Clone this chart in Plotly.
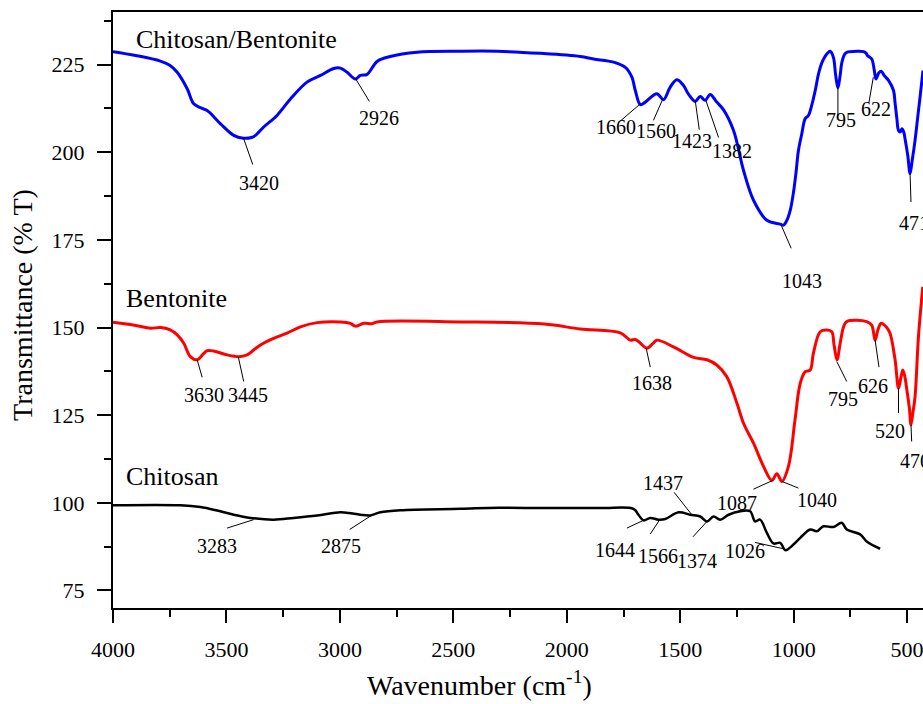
import plotly.graph_objects as go

# ---------------- data ----------------
cb_wn = [4000, 3900, 3791, 3750, 3717, 3673, 3644, 3615, 3585, 3526, 3468, 3426, 3390, 3372, 3336,
         3277, 3218, 3145, 3086, 3027, 2998, 2968, 2932, 2910, 2880, 2836, 2778, 2660, 2469, 2307,
         2117, 1941, 1882, 1794, 1742, 1713, 1698, 1676, 1654, 1603, 1574, 1544, 1515, 1486, 1463,
         1434, 1412, 1390, 1368, 1339, 1309, 1265, 1221, 1177, 1118, 1059, 1045, 1030, 1015, 1001,
         990, 979, 965, 949, 935, 920, 905, 890, 876, 860, 847, 839, 825, 815, 805, 795, 788, 775,
         766, 720, 692, 680, 675, 656, 645, 637, 625, 614, 600, 582, 560, 553, 545, 538, 530, 523,
         515, 508, 497, 487, 478, 465, 455, 443, 430]
cb_t = [228.7, 227.6, 226.0, 224.8, 222.8, 218.1, 213.8, 212.7, 211.9, 208.1, 204.8, 204.0, 204.2, 204.8, 207.2,
        210.5, 215.2, 220.0, 221.9, 223.9, 224.0, 222.8, 220.9, 221.9, 222.2, 225.9, 227.3, 228.5, 228.8, 228.8,
        228.2, 227.3, 226.6, 225.7, 224.2, 221.4, 217.6, 213.6, 214.3, 216.7, 215.0, 218.6, 220.7, 219.1, 216.5,
        214.5, 215.9, 214.8, 216.5, 214.3, 212.1, 206.2, 194.8, 186.3, 180.6, 179.5, 179.2, 180.6, 183.5, 188.5,
        194.0, 200.5, 205.0, 209.6, 210.5, 213.5, 217.6, 222.5, 225.5, 227.5, 228.5, 228.8, 227.1, 222.0, 218.3, 222.0, 225.5, 228.0,
        228.5, 228.8, 228.7, 228.2, 227.6, 226.6, 223.5, 220.9, 222.6, 223.1, 221.8, 220.5, 217.6, 214.0, 209.5, 206.2, 205.8, 206.7,
        205.8, 203.4, 199.0, 193.9, 197.5, 203.4, 209.0, 215.7, 223.3]

bent_wn = [4000, 3900, 3835, 3791, 3750, 3717, 3688, 3659, 3629, 3600, 3585, 3556, 3497, 3446, 3409,
           3380, 3350, 3292, 3233, 3174, 3100, 2998, 2954, 2932, 2895, 2858, 2836, 2469, 2100, 1941,
           1764, 1720, 1698, 1680, 1647, 1620, 1603, 1530, 1441, 1382, 1339, 1295, 1250, 1221, 1177,
           1133, 1096, 1074, 1052, 1023, 994, 971, 949, 927, 913, 883, 854, 832, 822, 809, 795, 780,
           766, 678, 656, 641, 628, 614, 590, 575, 553, 538, 528, 519, 510, 501, 490, 483, 475, 465,
           450, 431]
bent_t = [151.5, 150.6, 149.8, 150.0, 149.4, 147.9, 145.5, 141.7, 140.8, 142.6, 143.4, 143.3, 142.2, 141.7, 142.2,
          143.6, 145.0, 146.9, 148.4, 150.2, 151.4, 151.6, 151.2, 150.4, 151.2, 151.1, 151.6, 151.6, 151.0, 149.6,
          148.5, 146.4, 146.6, 145.8, 144.1, 145.5, 146.4, 144.5, 141.5, 140.8, 139.3, 136.0, 128.4, 122.7, 117.0,
          110.4, 106.4, 108.3, 106.1, 110.4, 123.7, 134.1, 137.4, 137.9, 142.7, 148.8, 149.3, 148.8, 145.0, 140.8, 145.5, 150.2,
          151.7, 151.7, 150.7, 146.4, 149.5, 151.2, 150.0, 148.3, 140.8, 132.7, 135.5, 137.9, 136.0, 132.2, 127.0, 122.3, 125.5, 130.3,
          147.4, 161.6]

chi_wn = [4000, 3703, 3615, 3541, 3468, 3394, 3292, 3204, 3100, 2998, 2961, 2910, 2866, 2822, 2733,
          2469, 2300, 2100, 1852, 1706, 1684, 1662, 1632, 1596, 1566, 1507, 1456, 1412, 1382, 1353,
          1324, 1287, 1236, 1192, 1170, 1148, 1118, 1089, 1059, 1037, 1001, 971, 927, 898, 869, 825,
          788, 766, 707, 678, 619]
chi_t = [99.3, 99.3, 98.8, 97.8, 96.6, 95.7, 95.2, 95.7, 96.4, 97.3, 97.1, 96.6, 96.4, 97.3, 97.9,
         98.3, 98.6, 98.5, 98.5, 98.3, 96.6, 95.0, 95.7, 95.2, 95.4, 97.3, 96.6, 96.1, 94.7, 96.1,
         95.2, 96.6, 97.6, 97.6, 94.7, 95.2, 91.4, 88.4, 88.6, 86.5, 88.1, 90.0, 92.4, 91.9, 93.3, 93.1,
         94.3, 92.4, 91.0, 89.0, 86.9]

# peak labels: text, peak point (wn, T), leader end (wn, T), text centre (wn, T)
peak_text = ["3420", "2926", "1660", "1560", "1423", "1382", "1043", "795", "622", "471",
             "3630", "3445", "1638", "795", "626", "520", "470", "1087", "1040",
             "3283", "2875", "1644", "1566", "1374", "1437", "1026"]
peak_x = [3426, 2932, 1676, 1576, 1434, 1387, 1055, 805, 649, 487,
          3629, 3448, 1650, 810, 641, 538, 483, 1092, 1052,
          3380, 2861, 1662, 1588, 1382, 1449, 1045]
peak_y = [204.2, 221.1, 213.8, 215.3, 214.8, 214.8, 179.2, 218.1, 221.4, 193.9,
          140.8, 141.7, 144.1, 140.3, 146.4, 132.7, 122.3, 106.4, 106.1,
          95.2, 96.4, 95.0, 95.4, 94.7, 96.6, 86.9]
lead_x = [3384, 2870, 1764, 1618, 1416, 1331, 1011, 805, 668, 483,
          3607, 3424, 1632, 766, 624, 538, 480, 1177, 979,
          3497, 2957, 1735, 1632, 1444, 1527, 1170]
lead_y = [196.5, 214.5, 208.9, 209.1, 206.4, 204.2, 172.6, 210.5, 214.3, 185.8,
          135.8, 134.6, 138.7, 134.6, 138.7, 125.6, 117.5, 103.9, 104.2,
          92.8, 92.4, 92.8, 91.1, 90.3, 103.0, 88.7]
label_x = [3355, 2826, 1782, 1606, 1446, 1270, 964, 792, 638, 470,
           3597, 3403, 1625, 781, 651, 575, 465, 1250, 898,
           3541, 2993, 1788, 1596, 1424, 1578, 1214]
label_y = [191.1, 209.7, 207.2, 206.2, 203.1, 200.3, 163.3, 209.3, 212.4, 179.7,
           130.8, 130.8, 134.1, 129.6, 133.2, 120.6, 111.8, 100.0, 100.9,
           87.6, 87.6, 86.5, 84.8, 83.3, 105.7, 86.2]

series_names = ["Chitosan/Bentonite", "Bentonite", "Chitosan"]
series_label_x = [3908, 3952, 3952]
series_label_y = [232.3, 158.3, 107.5]

x_ticks = [4000, 3500, 3000, 2500, 2000, 1500, 1000, 500]
y_ticks = [75, 100, 125, 150, 175, 200, 225]

FONT = "Liberation Serif"

fig = go.Figure()
fig.add_trace(go.Scatter(x=cb_wn, y=cb_t, mode="lines", line=dict(color="#0000FF", width=3),
                         name=series_names[0], line_shape="spline"))
fig.add_trace(go.Scatter(x=bent_wn, y=bent_t, mode="lines", line=dict(color="#FF0000", width=3),
                         name=series_names[1], line_shape="spline"))
fig.add_trace(go.Scatter(x=chi_wn, y=chi_t, mode="lines", line=dict(color="#000000", width=2.5),
                         name=series_names[2], line_shape="spline"))

for i in range(len(peak_text)):
    fig.add_shape(type="line", xref="x", yref="y", x0=peak_x[i], y0=peak_y[i],
                  x1=lead_x[i], y1=lead_y[i], line=dict(color="black", width=1))
    fig.add_annotation(x=label_x[i], y=label_y[i], xref="x", yref="y", text=peak_text[i],
                       showarrow=False, font=dict(family=FONT, size=20, color="black"),
                       xanchor="center", yanchor="middle")

for name, lx, ly in zip(series_names, series_label_x, series_label_y):
    fig.add_annotation(x=lx, y=ly, xref="x", yref="y", text=name, showarrow=False,
                       font=dict(family=FONT, size=26, color="black"), xanchor="left", yanchor="middle")

# axis titles
fig.add_annotation(x=0.452, y=-0.126, xref="paper", yref="paper", text="Wavenumber (cm<sup>-1</sup>)",
                   showarrow=False, font=dict(family=FONT, size=28, color="black"),
                   xanchor="center", yanchor="middle")
fig.add_annotation(x=-0.112, y=0.509, xref="paper", yref="paper", text="Transmittance (% T)",
                   showarrow=False, textangle=-90, font=dict(family=FONT, size=28, color="black"),
                   xanchor="center", yanchor="middle")

fig.update_layout(
    width=923, height=704,
    margin=dict(l=113, r=0, t=12, b=96),
    plot_bgcolor="white", paper_bgcolor="white",
    showlegend=False,
    font=dict(family=FONT, size=22, color="black"),
)
fig.update_xaxes(range=[4000, 430], tickmode="array", tickvals=x_ticks, ticks="outside", ticklen=13,
                 tickwidth=2, tickcolor="black", showline=True, linewidth=2, linecolor="black",
                 mirror=True, showgrid=False, zeroline=False, ticklabelstandoff=8,
                 ticklabeloverflow="allow",
                 minor=dict(dtick=250, ticks="outside", ticklen=7, tickwidth=2, tickcolor="black", showgrid=False),
                 tickfont=dict(family=FONT, size=22, color="black"))
fig.update_yaxes(range=[70, 240], tickmode="array", tickvals=y_ticks, ticks="outside", ticklen=14,
                 tickwidth=2, tickcolor="black", showline=True, linewidth=2, linecolor="black",
                 mirror=False, showgrid=False, zeroline=False, ticklabelstandoff=8,
                 minor=dict(dtick=12.5, tick0=0, ticks="outside", ticklen=7, tickwidth=2, tickcolor="black", showgrid=False),
                 tickfont=dict(family=FONT, size=22, color="black"))

fig.write_html("out.html", config={"displayModeBar": False},
               post_script="document.body.style.margin='0px';document.body.style.overflow='hidden';")
